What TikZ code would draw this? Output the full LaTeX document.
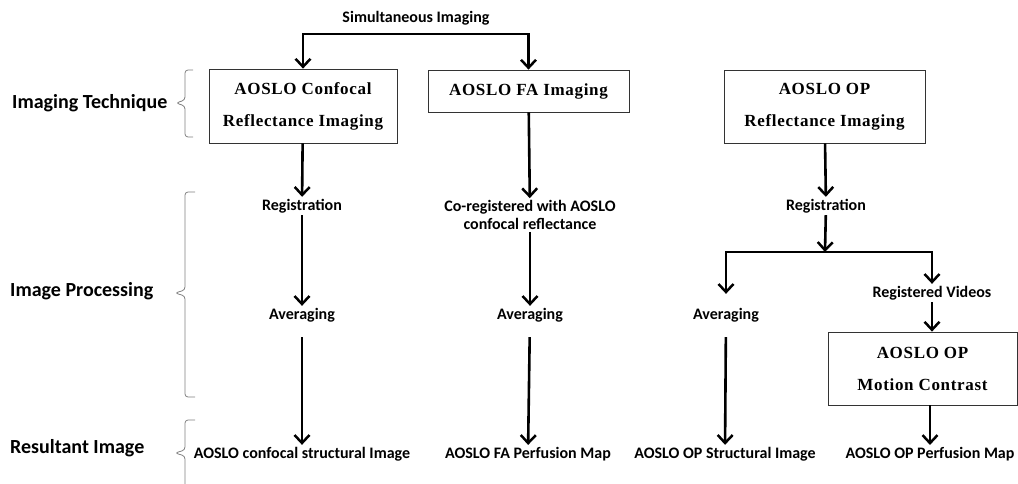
\documentclass[tikz,border=0pt]{standalone}
\usepackage{fontspec}
\setmainfont{Carlito}
\newfontfamily\boxfont{Liberation Serif}[LetterSpace=4]
\usetikzlibrary{arrows.meta}

\begin{document}
\begin{tikzpicture}[x=1pt,y=-1pt,
arr/.style={-{Straight Barb[length=8pt,width=15pt,line width=2.5pt]},line width=2.6pt},
tech/.style={
	rectangle,draw=black!80,line width=0.8pt,align=center,
	font=\boxfont\bfseries\fontsize{17}{32}\selectfont},
lbl/.style={font=\bfseries\fontsize{16}{18}\selectfont,align=center,inner sep=2pt},
stage/.style={font=\bfseries\fontsize{20}{22}\selectfont,anchor=west,inner sep=0pt},
brace/.style={draw=black!50,line width=0.8pt,rounded corners=3pt},
]
\useasboundingbox (0,0) rectangle (1018,484);

% stages on the left
\node[stage] (tech) at (12,103) {Imaging Technique};
\node[stage] (proc) at (10,291) {Image Processing};
\node[stage] (res) at (10,448) {Resultant Image};
\draw[brace] (193,70) -- (185,70) -- (185,100) -- (176,103) -- (185,106) -- (185,137) -- (193,137);
\draw[brace] (195,192) -- (185,192) -- (185,290) -- (175,293) -- (185,296) -- (185,397) -- (195,397);
\draw[brace] (195,420) -- (185,420) -- (185,450) -- (175,453) -- (185,456) -- (185,492);

% imaging
\node[lbl] (sim) at (416,18) {Simultaneous Imaging};
\coordinate (top) at (416,34);
\node[tech,minimum width=188pt,minimum height=74pt] (conf) at (303,106) {AOSLO Confocal\\Reflectance Imaging};
\node[tech,minimum width=201pt,minimum height=42pt] (fa) at (528.5,91) {AOSLO FA Imaging};
\node[tech,minimum width=201pt,minimum height=73pt] (op) at (824.5,106.5) {AOSLO OP\\Reflectance Imaging};
\draw[arr] (top) -| (conf);
\draw[arr] (top) -| (fa);

% processing
\node[lbl] (reg1) at (302,206) {Registration};
\node[lbl] (reg2) at (530,215) {Co-registered with AOSLO\\confocal reflectance};
\node[lbl] (reg3) at (826,206) {Registration};
\coordinate (br) at (825,252);
\node[lbl] (avg1) at (302,315) {Averaging};
\node[lbl] (avg2) at (530,315) {Averaging};
\node[lbl] (avg3) at (726,315) {Averaging};
\node[lbl] (vid) at (932,293) {Registered Videos};
\node[tech,minimum width=189pt,minimum height=73pt] (mc) at (922.5,368.5) {AOSLO OP\\Motion Contrast};

\draw[arr] (conf) -- (reg1);
\draw[arr] (fa) -- (reg2);
\draw[arr] (op) -- (reg3);
\draw[arr] (reg1) -- (avg1);
\draw[arr] (reg2) -- (avg2);
\draw[arr] (reg3) -- (br);
\draw[arr,shorten >=12pt] (br) -| (avg3);
\draw[arr] (br) -| (vid);
\draw[arr] (vid) -- (mc.north -| vid);

% results
\node[lbl] (res1) at (302,454) {AOSLO confocal structural Image};
\node[lbl] (res2) at (528,454) {AOSLO FA Perfusion Map};
\node[lbl] (res3) at (725,454) {AOSLO OP Structural Image};
\node[lbl] (res4) at (930,454) {AOSLO OP Perfusion Map};
\draw[arr,shorten <=13pt] (avg1) -- (res1);
\draw[arr,shorten <=13pt] (avg2) -- (res2);
\draw[arr,shorten <=13pt] (avg3) -- (res3);
\draw[arr] (mc.south -| res4) -- (res4);
\end{tikzpicture}
\end{document}
